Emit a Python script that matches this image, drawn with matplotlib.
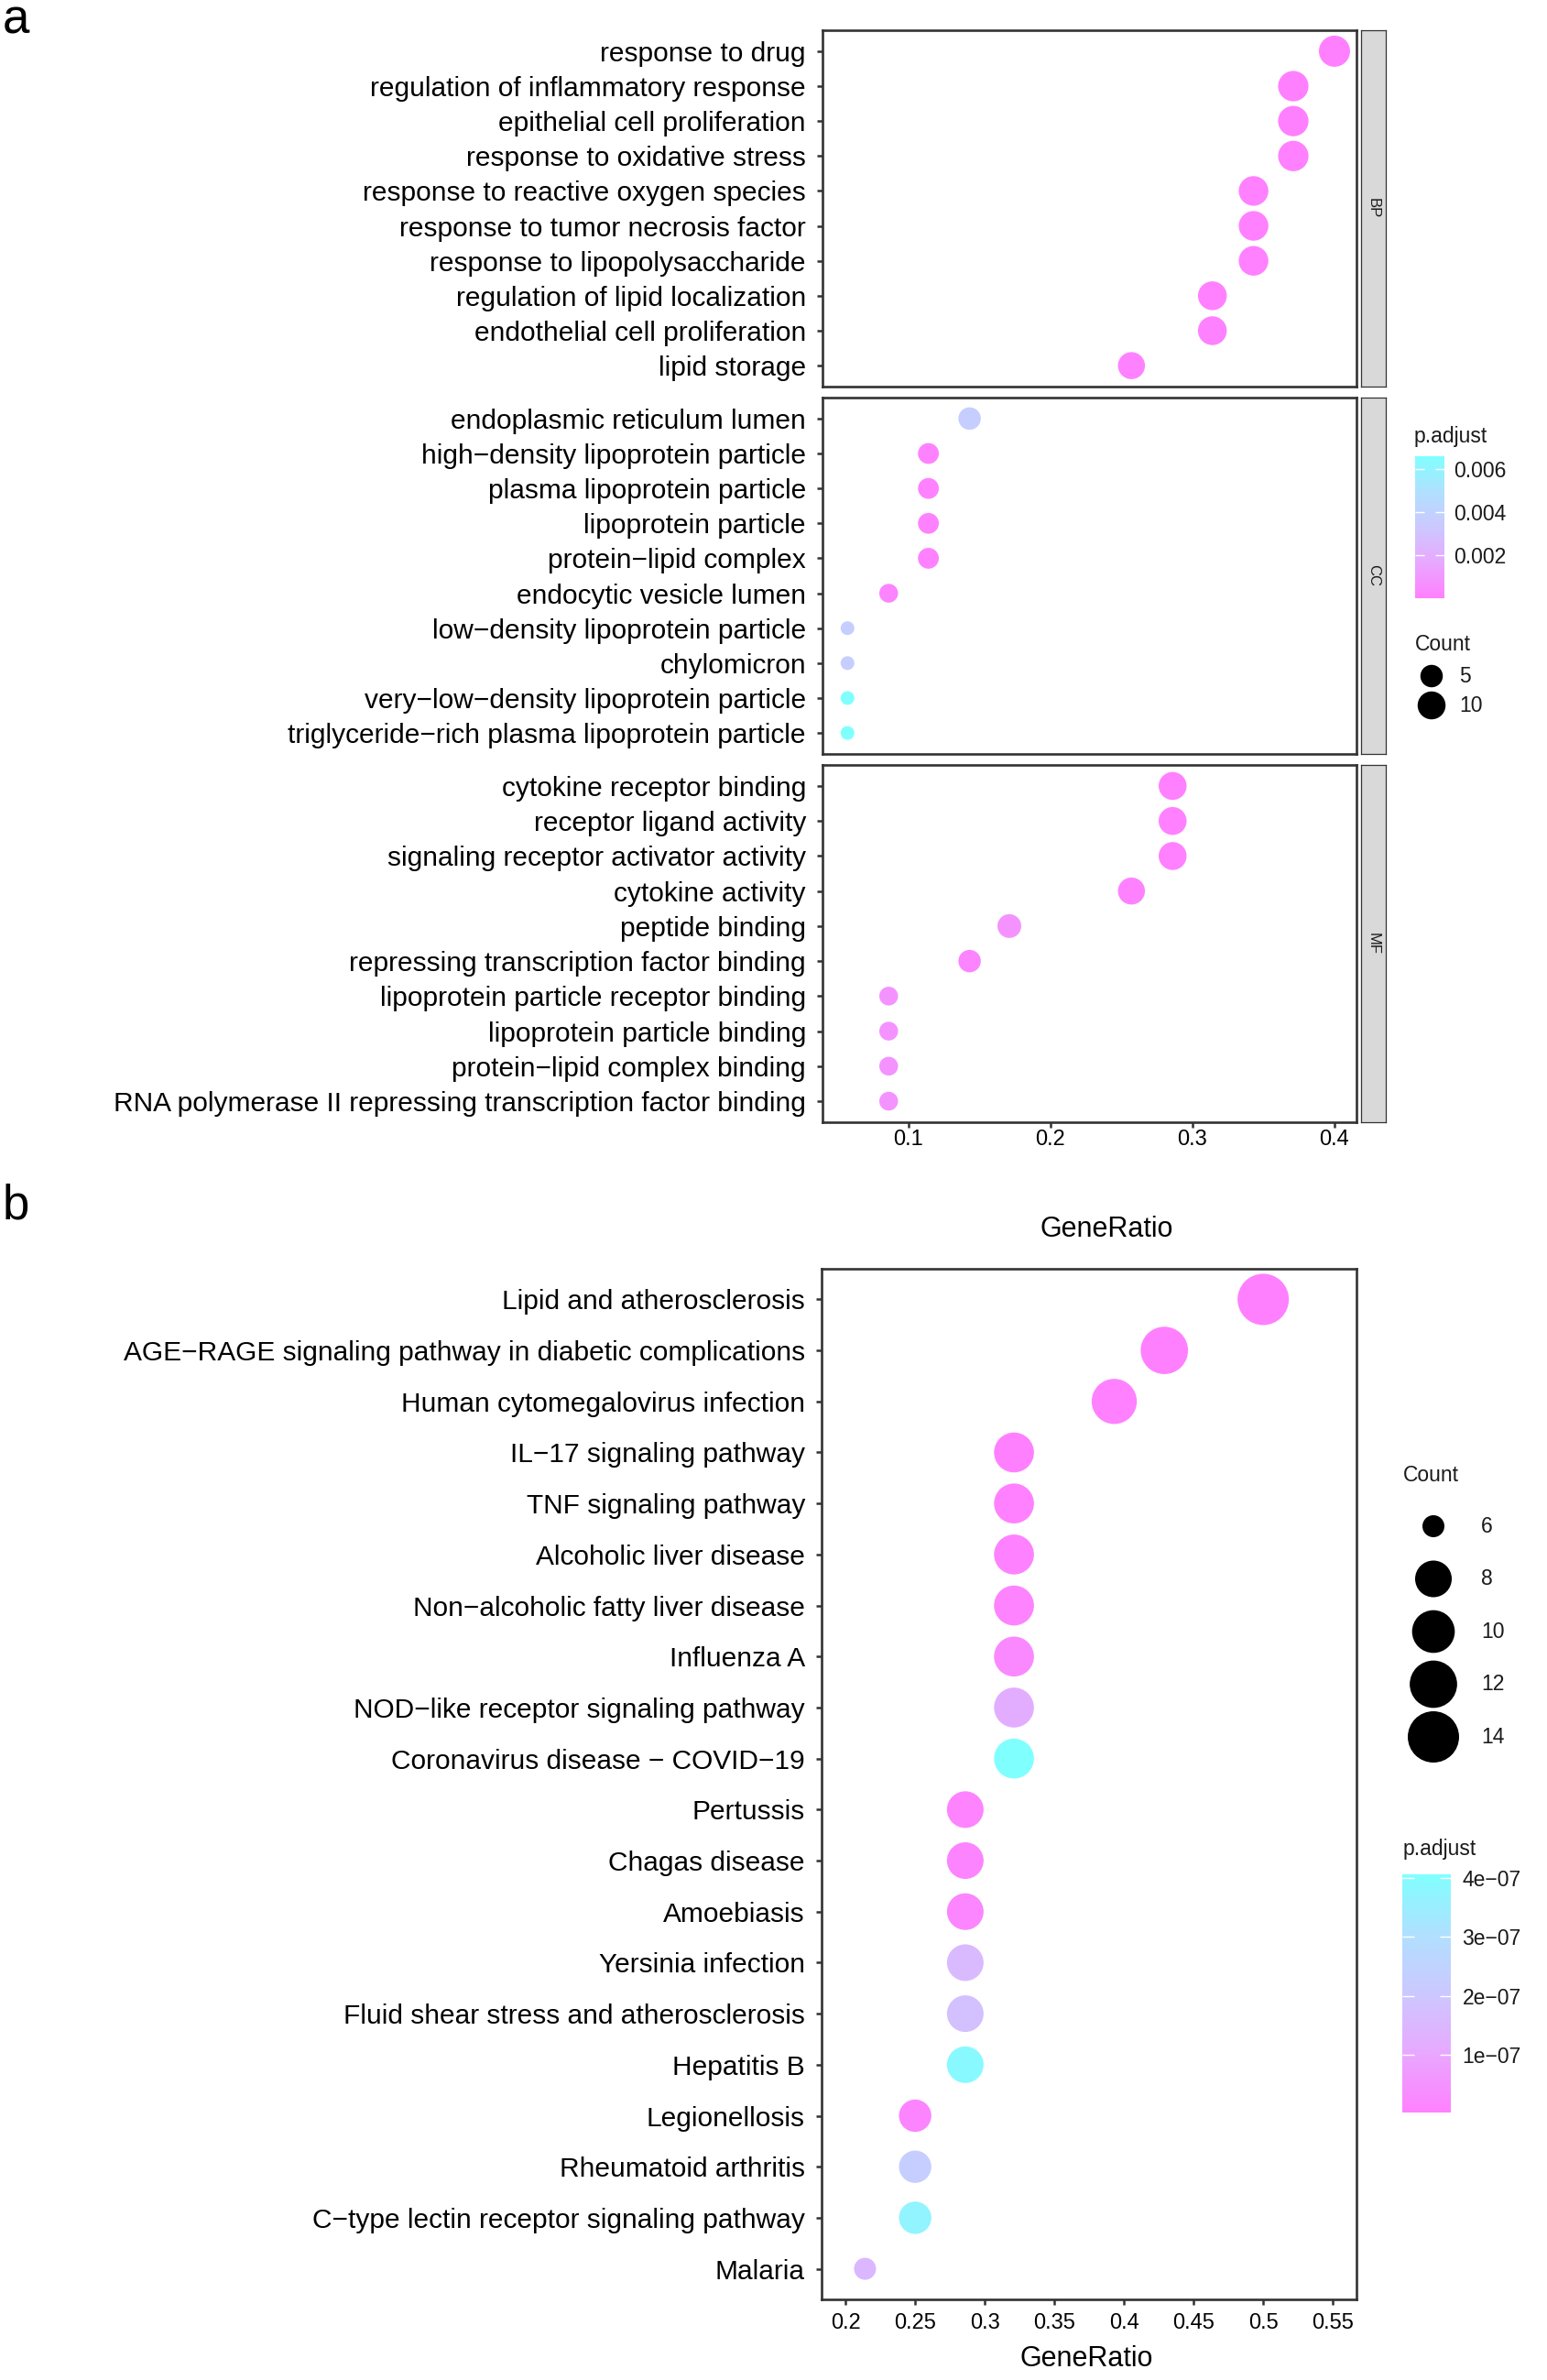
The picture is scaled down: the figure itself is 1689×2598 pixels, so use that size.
import numpy as np
import matplotlib
matplotlib.use("Agg")
import matplotlib.pyplot as plt
from matplotlib.colors import LinearSegmentedColormap, Normalize
from matplotlib.cm import ScalarMappable

plt.rcParams['font.family'] = ['Liberation Sans', 'DejaVu Sans']

W, H, DPI = 1690, 2598, 100

# ---------------- panel a: GO enrichment ----------------
bp_terms = ["response to drug", "regulation of inflammatory response", "epithelial cell proliferation",
            "response to oxidative stress", "response to reactive oxygen species",
            "response to tumor necrosis factor", "response to lipopolysaccharide",
            "regulation of lipid localization", "endothelial cell proliferation", "lipid storage"]
bp_ratio = [0.400, 0.371, 0.371, 0.371, 0.343, 0.343, 0.343, 0.314, 0.314, 0.257]
bp_count = [14, 13, 13, 13, 12, 12, 12, 11, 11, 9]
bp_padj = [0.00001, 0.00002, 0.00002, 0.00003, 0.00003, 0.00004, 0.00004, 0.00005, 0.00006, 0.00008]

cc_terms = ["endoplasmic reticulum lumen", "high\u2212density lipoprotein particle",
            "plasma lipoprotein particle", "lipoprotein particle", "protein\u2212lipid complex",
            "endocytic vesicle lumen", "low\u2212density lipoprotein particle", "chylomicron",
            "very\u2212low\u2212density lipoprotein particle",
            "triglyceride\u2212rich plasma lipoprotein particle"]
cc_ratio = [0.143, 0.114, 0.114, 0.114, 0.114, 0.086, 0.057, 0.057, 0.057, 0.057]
cc_count = [5, 4, 4, 4, 4, 3, 2, 2, 2, 2]
cc_padj = [0.0037, 0.0001, 0.0001, 0.0001, 0.0001, 0.0002, 0.0037, 0.0037, 0.0066, 0.0066]

mf_terms = ["cytokine receptor binding", "receptor ligand activity",
            "signaling receptor activator activity", "cytokine activity", "peptide binding",
            "repressing transcription factor binding", "lipoprotein particle receptor binding",
            "lipoprotein particle binding", "protein\u2212lipid complex binding",
            "RNA polymerase II repressing transcription factor binding"]
mf_ratio = [0.286, 0.286, 0.286, 0.257, 0.171, 0.143, 0.086, 0.086, 0.086, 0.086]
mf_count = [10, 10, 10, 9, 6, 5, 3, 3, 3, 3]
mf_padj = [0.00005, 0.00005, 0.00005, 0.0001, 0.0008, 0.0002, 0.0008, 0.0008, 0.0008, 0.0008]

facets = ["BP", "CC", "MF"]
a_xticks = [0.1, 0.2, 0.3, 0.4]
a_padj_ticks = [0.002, 0.004, 0.006]
a_padj_labels = ["0.002", "0.004", "0.006"]
a_count_keys = [5, 10]

# ---------------- panel b: KEGG enrichment ----------------
kegg_terms = ["Lipid and atherosclerosis", "AGE\u2212RAGE signaling pathway in diabetic complications",
              "Human cytomegalovirus infection", "IL\u221217 signaling pathway", "TNF signaling pathway",
              "Alcoholic liver disease", "Non\u2212alcoholic fatty liver disease", "Influenza A",
              "NOD\u2212like receptor signaling pathway", "Coronavirus disease \u2212 COVID\u221219",
              "Pertussis", "Chagas disease", "Amoebiasis", "Yersinia infection",
              "Fluid shear stress and atherosclerosis", "Hepatitis B", "Legionellosis",
              "Rheumatoid arthritis", "C\u2212type lectin receptor signaling pathway", "Malaria"]
kegg_ratio = [0.500, 0.429, 0.393, 0.321, 0.321, 0.321, 0.321, 0.321, 0.321, 0.321,
              0.286, 0.286, 0.286, 0.286, 0.286, 0.286, 0.250, 0.250, 0.250, 0.214]
kegg_count = [14, 12, 11, 9, 9, 9, 9, 9, 9, 9, 8, 8, 8, 8, 8, 8, 7, 7, 7, 6]
kegg_padj = [3e-9, 3e-9, 5e-9, 4e-9, 5e-9, 8e-9, 1e-8, 2.5e-8, 1.2e-7, 4.06e-7,
             1e-8, 1.5e-8, 2e-8, 1.6e-7, 1.8e-7, 3.9e-7, 1.5e-8, 2.3e-7, 3.7e-7, 1.5e-7]
b_xticks = [0.2, 0.25, 0.3, 0.35, 0.4, 0.45, 0.5, 0.55]
b_xlabels = ["0.2", "0.25", "0.3", "0.35", "0.4", "0.45", "0.5", "0.55"]
b_padj_ticks = [1e-7, 2e-7, 3e-7, 4e-7]
b_padj_labels = ["1e\u221207", "2e\u221207", "3e\u221207", "4e\u221207"]
b_count_keys = [6, 8, 10, 12, 14]

cmap = LinearSegmentedColormap.from_list(
    "padj", ["#FF80FF", "#E8A8FF", "#CCC8FF", "#B0E0FF", "#80FFFF"])
DARK = "#333333"
LABEL_FS = 21.5
TICK_FS = 17
LEG_FS = 16.5


def px_axes(fig, l, t, r, b):
    return fig.add_axes([l / W, 1 - b / H, (r - l) / W, (b - t) / H])


def size_of(count, cmin, cmax, dmin, dmax):
    # ggplot-like area scale: diameter in px -> marker area in pt^2
    frac = np.sqrt((np.asarray(count, float) - cmin) / (cmax - cmin))
    d = dmin + (dmax - dmin) * frac
    return (d * 72 / DPI) ** 2


def style_box(ax):
    for sp in ax.spines.values():
        sp.set_color(DARK)
        sp.set_linewidth(1.9)
    ax.tick_params(axis="both", color=DARK, width=1.8, length=4, labelcolor="black")


fig = plt.figure(figsize=(W / DPI, H / DPI), dpi=DPI)
overlay = fig.add_axes([0, 0, 1, 1])
overlay.set_xlim(0, W)
overlay.set_ylim(H, 0)
overlay.axis("off")

# ---- panel a facets ----
a_norm = Normalize(0.0, 0.0066)
a_data = [(bp_terms, bp_ratio, bp_count, bp_padj),
          (cc_terms, cc_ratio, cc_count, cc_padj),
          (mf_terms, mf_ratio, mf_count, mf_padj)]
a_rows = [(33, 422), (434, 823), (835, 1225)]
for k, (terms, ratio, count, padj) in enumerate(a_data):
    top, bot = a_rows[k]
    ax = px_axes(fig, 898, top, 1481, bot)
    y = np.arange(len(terms))
    ax.scatter(ratio, y, s=size_of(count, 2, 14, 15, 34), c=padj, cmap=cmap, norm=a_norm,
               edgecolors="none", zorder=3)
    ax.set_xlim(0.0394, 0.4155)
    ax.set_ylim(len(terms) - 1 + 0.6, -0.6)
    ax.set_yticks(y)
    ax.set_yticklabels(terms, fontsize=LABEL_FS)
    style_box(ax)
    ax.tick_params(axis="y", pad=9)
    if k == 2:
        ax.set_xticks(a_xticks)
        ax.set_xticklabels([str(v) for v in a_xticks], fontsize=TICK_FS)
        ax.tick_params(axis="x", pad=2)
    else:
        ax.set_xticks([])
    strip = px_axes(fig, 1486, top, 1513, bot)
    strip.set_facecolor("#D9D9D9")
    strip.set_xticks([])
    strip.set_yticks([])
    for sp in strip.spines.values():
        sp.set_color(DARK)
        sp.set_linewidth(0.9)
    strip.text(0.5, 0.5, facets[k], rotation=-90, ha="center", va="center",
               fontsize=12, color="#1A1A1A", transform=strip.transAxes)

# ---- panel a legends ----
overlay.text(1544, 476, "p.adjust", fontsize=LEG_FS, ha="left", va="center", color="#1A1A1A")
cax = px_axes(fig, 1545, 498, 1577, 653)
cb = fig.colorbar(ScalarMappable(norm=a_norm, cmap=cmap), cax=cax)
cb.outline.set_visible(False)
cb.set_ticks(a_padj_ticks)
cb.set_ticklabels(a_padj_labels)
cax.tick_params(left=True, right=True, direction="in", color="white", width=1, length=7,
                labelsize=LEG_FS, labelcolor="#1A1A1A", pad=7)
overlay.text(1545, 703, "Count", fontsize=LEG_FS, ha="left", va="center", color="#1A1A1A")
a_key_y = 738 + 32 * np.arange(len(a_count_keys))
overlay.scatter([1563] * len(a_count_keys), a_key_y, s=size_of(a_count_keys, 2, 14, 15, 34),
                color="black", edgecolors="none")
for c, yy in zip(a_count_keys, a_key_y):
    overlay.text(1593, yy, str(c), fontsize=LEG_FS, ha="left", va="center", color="#1A1A1A")

# ---- panel b ----
b_norm = Normalize(2.8e-9, 4.06e-7)
axb = px_axes(fig, 897, 1385, 1481, 2510)
yb = np.arange(len(kegg_terms))
axb.scatter(kegg_ratio, yb, s=size_of(kegg_count, 6, 14, 24, 56), c=kegg_padj, cmap=cmap,
            norm=b_norm, edgecolors="none", zorder=3)
axb.set_xlim(0.1828, 0.567)
axb.set_ylim(len(kegg_terms) - 1 + 0.6, -0.6)
axb.set_yticks(yb)
axb.set_yticklabels(kegg_terms, fontsize=LABEL_FS)
axb.set_xticks(b_xticks)
axb.set_xticklabels(b_xlabels, fontsize=TICK_FS)
style_box(axb)
axb.tick_params(axis="y", pad=9)
axb.tick_params(axis="x", pad=7)
axb.set_xlabel("GeneRatio", fontsize=22, va="center")
axb.xaxis.set_label_coords((1186 - 897) / 584, -(2575 - 2510) / 1125)

overlay.text(1532, 1610, "Count", fontsize=LEG_FS, ha="left", va="center", color="#1A1A1A")
b_key_y = 1666 + 57.5 * np.arange(len(b_count_keys))
overlay.scatter([1565] * len(b_count_keys), b_key_y, s=size_of(b_count_keys, 6, 14, 24, 56),
                color="black", edgecolors="none")
for c, yy in zip(b_count_keys, b_key_y):
    overlay.text(1617, yy, str(c), fontsize=LEG_FS, ha="left", va="center", color="#1A1A1A")
overlay.text(1532, 2018, "p.adjust", fontsize=LEG_FS, ha="left", va="center", color="#1A1A1A")
cbx = px_axes(fig, 1531, 2046, 1584, 2306)
cb2 = fig.colorbar(ScalarMappable(norm=b_norm, cmap=cmap), cax=cbx)
cb2.outline.set_visible(False)
cb2.set_ticks(b_padj_ticks)
cb2.set_ticklabels(b_padj_labels)
cbx.tick_params(left=True, right=True, direction="in", color="white", width=1, length=9,
                labelsize=LEG_FS, labelcolor="#1A1A1A", pad=9)

# ---- stray axis title and panel letters ----
overlay.text(1208, 1342, "GeneRatio", fontsize=22, ha="center", va="center")
overlay.text(3, 36, "a", fontsize=38, ha="left", va="baseline")
overlay.text(3, 1330, "b", fontsize=38, ha="left", va="baseline")

fig.savefig("out.png", dpi=DPI)
